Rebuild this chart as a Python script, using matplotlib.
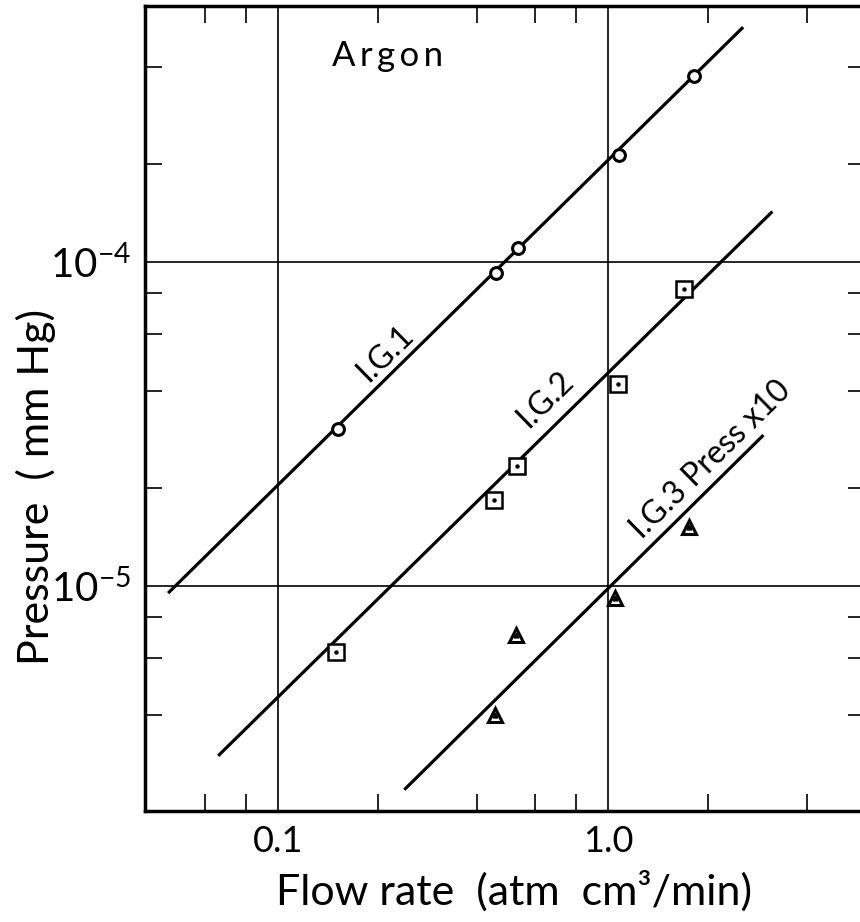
import matplotlib
matplotlib.use("Agg")
import matplotlib.pyplot as plt
from matplotlib.ticker import FixedLocator, FixedFormatter, NullFormatter

plt.rcParams['font.family'] = ['Lato', 'DejaVu Sans']
plt.rcParams['mathtext.fontset'] = 'custom'
plt.rcParams['mathtext.rm'] = 'Lato'
plt.rcParams['mathtext.it'] = 'Lato:italic'
plt.rcParams['mathtext.bf'] = 'Lato:bold'

# ---- data ----
ig1_flow = [0.152, 0.458, 0.534, 1.08, 1.82]
ig1_press = [3.05e-5, 9.25e-5, 1.10e-4, 2.14e-4, 3.75e-4]
ig1_fit_flow = [0.0464, 2.56]
ig1_fit_press = [9.5e-6, 5.3e-4]

ig2_flow = [0.150, 0.449, 0.530, 1.07, 1.69]
ig2_press = [6.25e-6, 1.84e-5, 2.35e-5, 4.2e-5, 8.26e-5]
ig2_fit_flow = [0.0658, 3.14]
ig2_fit_press = [2.99e-6, 1.43e-4]

ig3_flow = [0.455, 0.526, 1.05, 1.76]
ig3_press = [4.0e-6, 7.06e-6, 9.2e-6, 1.52e-5]
ig3_fit_flow = [0.241, 2.95]
ig3_fit_press = [2.35e-6, 2.92e-5]

x_major = [0.1, 1.0]
x_major_labels = ["0.1", "1.0"]
x_minor = [0.06, 0.08, 0.2, 0.4, 0.6, 0.8, 2.0, 4.0]
y_major = [1e-5, 1e-4]
y_major_labels = [r"$10^{-5}$", r"$10^{-4}$"]
y_minor = [4e-6, 6e-6, 8e-6, 2e-5, 4e-5, 6e-5, 8e-5, 2e-4, 4e-4]

# ---- figure ----
W, H = 860, 922
fig = plt.figure(figsize=(W / 100, H / 100), dpi=100)
ax_l, ax_r, ax_t, ax_b = 145, 865, 6, 811
ax = fig.add_axes([ax_l / W, (H - ax_b) / H, (ax_r - ax_l) / W, (ax_b - ax_t) / H])
ax.set_xscale('log')
ax.set_yscale('log')
ax.set_xlim(0.0395, 5.99)
ax.set_ylim(2.02e-6, 6.16e-4)

# fit lines
lw_line = 2.3
ax.plot(ig1_fit_flow, ig1_fit_press, color='black', lw=lw_line, zorder=3, solid_capstyle='butt')
ax.plot(ig2_fit_flow, ig2_fit_press, color='black', lw=lw_line, zorder=3, solid_capstyle='butt')
ax.plot(ig3_fit_flow, ig3_fit_press, color='black', lw=lw_line, zorder=3, solid_capstyle='butt')

# markers
ax.plot(ig1_flow, ig1_press, linestyle='none', marker='o', markersize=8.5,
        markerfacecolor='white', markeredgecolor='black', markeredgewidth=2.2, zorder=4)
ax.plot(ig2_flow, ig2_press, linestyle='none', marker='s', markersize=12,
        markerfacecolor='white', markeredgecolor='black', markeredgewidth=1.8, zorder=4)
ax.plot(ig2_flow, ig2_press, linestyle='none', marker='o', markersize=2.2,
        color='black', zorder=5)
ax.plot(ig3_flow, ig3_press, linestyle='none', marker='^', markersize=10.5,
        markerfacecolor='white', markeredgecolor='black', markeredgewidth=2.2, zorder=4)
ax.plot(ig3_flow, ig3_press, linestyle='none', marker='^', markersize=3.5,
        color='black', zorder=5)

# ticks
ax.xaxis.set_major_locator(FixedLocator(x_major))
ax.xaxis.set_major_formatter(FixedFormatter(x_major_labels))
ax.xaxis.set_minor_locator(FixedLocator(x_minor))
ax.xaxis.set_minor_formatter(NullFormatter())
ax.yaxis.set_major_locator(FixedLocator(y_major))
ax.yaxis.set_major_formatter(FixedFormatter(y_major_labels))
ax.yaxis.set_minor_locator(FixedLocator(y_minor))
ax.yaxis.set_minor_formatter(NullFormatter())

ax.tick_params(which='minor', direction='in', length=12.5, width=1.2,
               top=True, right=True, bottom=True, left=True)
ax.tick_params(which='major', length=0, top=False, right=False)
ax.tick_params(axis='x', which='major', labelsize=26, pad=10)
ax.tick_params(axis='y', which='major', labelsize=29, pad=10)

ax.grid(True, which='major', color='black', lw=1.2, zorder=1)
ax.set_axisbelow(True)
for s in ax.spines.values():
    s.set_linewidth(2.5)

# axis labels
ax.set_xlabel("Flow rate  (atm  cm³/min)", fontsize=31)
ax.xaxis.set_label_coords((514 - ax_l) / (ax_r - ax_l), (ax_b - 870) / (ax_b - ax_t))
ax.set_ylabel("Pressure  ( mm Hg)", fontsize=31)
ax.yaxis.set_label_coords((56 - ax_l) / (ax_r - ax_l), (ax_b - 487) / (ax_b - ax_t))

def fx(px):
    return (px - ax_l) / (ax_r - ax_l)

def fy(py):
    return (ax_b - py) / (ax_b - ax_t)

ax.text(fx(332), fy(66), "A\u2009r\u2009g\u2009o\u2009n", transform=ax.transAxes, fontsize=25,
        ha='left', va='baseline')
ax.text(fx(385), fy(354), "I.G.1", transform=ax.transAxes, fontsize=23,
        rotation=44.5, ha='center', va='center', rotation_mode='anchor')
ax.text(fx(545), fy(400), "I.G.2", transform=ax.transAxes, fontsize=23,
        rotation=44.5, ha='center', va='center', rotation_mode='anchor')
ax.text(fx(711), fy(460), "I.G.3 Press x10", transform=ax.transAxes, fontsize=23,
        rotation=44.5, ha='center', va='center', rotation_mode='anchor')

fig.savefig("out.png", dpi=100)
